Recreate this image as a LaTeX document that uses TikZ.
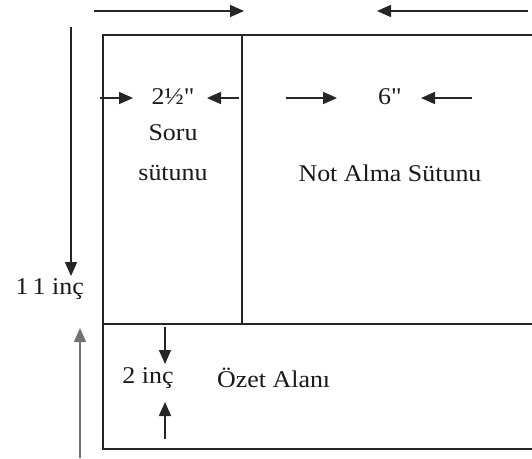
\documentclass[tikz,border=0pt]{standalone}
\usepackage{fontspec}
\setmainfont{Liberation Serif}[FakeStretch=1.08,Ligatures=TeXOff]
\usetikzlibrary{arrows.meta}
\begin{document}
\begin{tikzpicture}[x=1pt,y=-1pt,
  frame/.style={line width=1.6pt,draw=black!85},
  dim/.style={line width=1.6pt,draw=black!85,-{Triangle[length=14pt,width=12pt]}},
  lbl/.style={inner sep=0pt,font=\fontsize{24}{28}\selectfont,text=black!90}]
\useasboundingbox (0,0) rectangle (532,458);
% frame
\coordinate (tl) at (103,35);
\coordinate (tr) at (532,35);
\coordinate (bl) at (103,449);
\coordinate (br) at (532,449);
\coordinate (ml) at (103,324);
\coordinate (mr) at (532,324);
\coordinate (vt) at (242,35);
\coordinate (vb) at (242,324);
\draw[frame] (tr) -- (tl) -- (bl) -- (br);
\draw[frame] (ml) -- (mr);
\draw[frame] (vt) -- (vb);
% top arrows
\coordinate (ta1) at (94,11);
\coordinate (ta2) at (244,11);
\coordinate (ta3) at (528,11);
\coordinate (ta4) at (377,11);
\draw[dim] (ta1) -- (ta2);
\draw[dim] (ta3) -- (ta4);
% 11 inc
\node[lbl,anchor=east] (h11) at (84,289) {1\,1 inç};
\coordinate (l1) at (71,27);
\coordinate (l2) at (71,276);
\draw[dim] (l1) -- (l2);
\coordinate (l3) at (80,458);
\coordinate (l4) at (80,328);
\draw[dim,draw=black!55] (l3) -- (l4);
% 2 1/2
\node[lbl] (w1) at (173,97) {2½"};
\coordinate (a1) at (100,98);
\coordinate (a2) at (133,98);
\coordinate (a3) at (239,98);
\coordinate (a4) at (207,98);
\draw[dim] (a1) -- (a2);
\draw[dim] (a3) -- (a4);
% 6
\node[lbl] (w2) at (390,97) {6"};
\coordinate (b1) at (286,98);
\coordinate (b2) at (337,98);
\coordinate (b3) at (472,98);
\coordinate (b4) at (421,98);
\draw[dim] (b1) -- (b2);
\draw[dim] (b3) -- (b4);
% column titles
\node[lbl] (s1) at (173,133) {Soru};
\node[lbl] (s2) at (173,173) {sütunu};
\node[lbl] (n1) at (390,173) {Not Alma Sütunu};
% 2 inc
\node[lbl] (h2) at (148,378) {2 inç};
\coordinate (c1) at (165,327);
\coordinate (c2) at (165,364);
\coordinate (c3) at (165,439);
\coordinate (c4) at (165,402);
\draw[dim] (c1) -- (c2);
\draw[dim] (c3) -- (c4);
\node[lbl,anchor=west] (oz) at (217,378) {Özet Alanı};
\end{tikzpicture}
\end{document}
